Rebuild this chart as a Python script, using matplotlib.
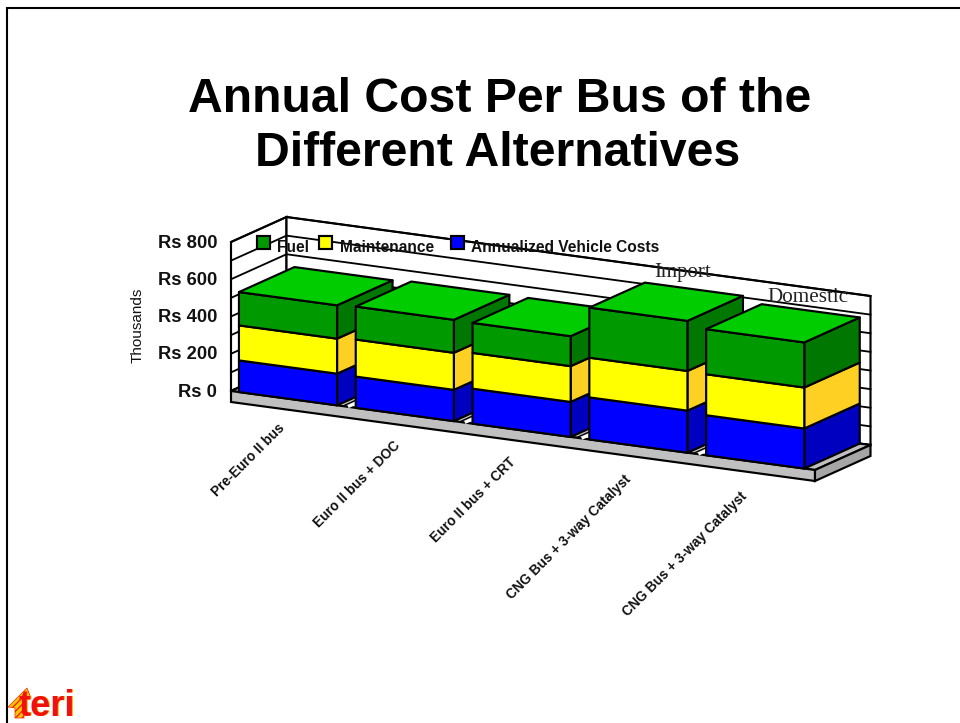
import matplotlib
matplotlib.use("Agg")
import matplotlib.pyplot as plt
from matplotlib.patches import Polygon, Rectangle

plt.rcParams['font.family'] = ['Liberation Sans', 'DejaVu Sans']

# donnees (Rs, en milliers)
categories = ["Pre-Euro II bus", "Euro II bus + DOC", "Euro II bus + CRT",
              "CNG Bus + 3-way Catalyst", "CNG Bus + 3-way Catalyst"]
vehicle = [170, 168, 188, 226, 215]
maintenance = [188, 199, 192, 213, 220]
fuel = [179, 177, 161, 269, 242]
grid_values = [0, 100, 200, 300, 400, 500, 600, 700, 800]
tick_values = [0, 200, 400, 600, 800]
legend_labels = ["Fuel", "Maintenance", "Annualized Vehicle Costs"]

# projection oblique (pixels de l'image)
X0, Y0 = 231, 391
CAT_DX, CAT_DY = 116.8, 15.8
DEPTH_DX, DEPTH_DY = 55.5, -25
VAL_PX = 149 / 800
SLAB = 11
BAR_START = 0.068
BAR_WIDTH = 0.84
LW = 1.55


def project(cat, val, depth=0.0):
    x = X0 + cat * CAT_DX + depth * DEPTH_DX
    y = Y0 + cat * CAT_DY + depth * DEPTH_DY - val * VAL_PX
    return (x, y)


fig = plt.figure(figsize=(9.6, 7.23), dpi=100)
ax = fig.add_axes([0, 0, 1, 1])
ax.set_xlim(0, 960)
ax.set_ylim(723, 0)
ax.axis('off')

# cadre de la diapo
ax.plot([7, 7, 960], [723, 8, 8], color='black', lw=1.5, solid_joinstyle='miter')

ax.text(499.5, 100, "Annual Cost Per Bus of the", ha='center', va='center',
        fontsize=34.7, fontweight='bold', color='black')
ax.text(498, 154, "Different Alternatives", ha='center', va='center',
        fontsize=34.7, fontweight='bold', color='black')

n = len(categories)
vmax = grid_values[-1]

# murs
ax.add_patch(Polygon([project(0, 0), project(0, vmax), project(0, vmax, 1), project(0, 0, 1)],
                     closed=True, fc='white', ec='black', lw=LW, zorder=1))
ax.add_patch(Polygon([project(0, 0, 1), project(0, vmax, 1), project(n, vmax, 1), project(n, 0, 1)],
                     closed=True, fc='white', ec='black', lw=LW, zorder=1))
for g in grid_values:
    pts = [project(0, g), project(0, g, 1), project(n, g, 1)]
    ax.plot([p[0] for p in pts], [p[1] for p in pts], color='black', lw=LW * 0.85, zorder=2)

# plancher
ax.add_patch(Polygon([project(0, 0), project(n, 0), project(n, 0, 1), project(0, 0, 1)],
                     closed=True, fc='#C0C0C0', ec='black', lw=LW, zorder=3))
x1, y1 = project(0, 0)
x2, y2 = project(n, 0)
x3, y3 = project(n, 0, 1)
ax.add_patch(Polygon([(x1, y1), (x2, y2), (x2, y2 + SLAB), (x1, y1 + SLAB)],
                     closed=True, fc='#C0C0C0', ec='black', lw=LW, zorder=3))
ax.add_patch(Polygon([(x2, y2), (x3, y3), (x3, y3 + SLAB), (x2, y2 + SLAB)],
                     closed=True, fc='#A6A6A6', ec='black', lw=LW, zorder=3))
# rayures du sol entre les barres
for i in range(1, n):
    a = project(i, 0, 0.03)
    b = project(i, 0, 0.5)
    ax.plot([a[0], b[0]], [a[1], b[1]], color='white', lw=2.2, zorder=3.1)
    ax.plot([a[0] - 5, b[0] - 5], [a[1] - 0.7, b[1] - 0.7], color='black', lw=1, zorder=3.1)

# barres empilees
stacks = [
    (vehicle, '#0000FF', '#0000C0', '#0000FF'),
    (maintenance, '#FFFF00', '#FFD024', '#FFFF00'),
    (fuel, '#009900', '#007700', '#00CC00'),
]
for i in range(n):
    c0 = i + BAR_START
    c1 = c0 + BAR_WIDTH
    bottom = 0
    z = 4 + i
    for values, front, side, top in stacks:
        v0, v1 = bottom, bottom + values[i]
        ax.add_patch(Polygon([project(c1, v0), project(c1, v1), project(c1, v1, 1), project(c1, v0, 1)],
                             closed=True, fc=side, ec='black', lw=LW, joinstyle='round', zorder=z))
        ax.add_patch(Polygon([project(c0, v0), project(c1, v0), project(c1, v1), project(c0, v1)],
                             closed=True, fc=front, ec='black', lw=LW, joinstyle='round', zorder=z))
        bottom = v1
    ax.add_patch(Polygon([project(c0, bottom), project(c1, bottom), project(c1, bottom, 1), project(c0, bottom, 1)],
                         closed=True, fc=stacks[-1][3], ec='black', lw=LW, joinstyle='round', zorder=z))

    # etiquette de categorie
    cx, cy = project(i + 0.5, 0)
    ax.text(cx - 7 - 1.2 * i, cy + 27 + 1.3 * i, categories[i], rotation=45, rotation_mode='anchor',
            ha='right', va='center', fontsize=9.8, fontweight='bold', color='#111111', zorder=20)

# axe des valeurs
for t in tick_values:
    x, y = project(0, t)
    ax.text(217, y + 1.2, f"Rs {t}", ha='right', va='center', fontsize=13.2,
            fontweight='bold', color='#111111', zorder=20)
ax.text(138, 325, "Thousands", rotation=90, ha='center', va='center', fontsize=11,
        color='#111111', zorder=20)

# legende
legend_swatch = [263, 325, 457]
legend_text = [277, 340, 471]
legend_colors = ['#009900', '#FFFF00', '#0000FF']
for lab, sx, tx, col in zip(legend_labels, legend_swatch, legend_text, legend_colors):
    ax.add_patch(Rectangle((sx - 6.5, 236), 13, 12.5, fc=col, ec='black', lw=LW, zorder=2.5))
    ax.text(tx, 247.5, lab, ha='left', va='center', fontsize=11.2, fontweight='bold',
            color='#111111', zorder=2.6)

# annotations
ax.text(683, 273, "Import", ha='center', va='center', fontsize=15,
        family='Liberation Serif', color='#222222', zorder=20)
ax.text(807.5, 297, "Domestic", ha='center', va='center', fontsize=15.2,
        family='Liberation Serif', color='#222222', zorder=20)

# logo teri
ax.add_patch(Polygon([(8, 707), (27, 688), (31, 698), (24, 700), (24, 718), (15, 718), (15, 708)],
                     closed=True, fc='#FFC800', ec='#FF2000', lw=0.5, hatch='/////', zorder=5))
ax.text(19.5, 716.5, "teri", ha='left', va='baseline', fontsize=26, fontweight='bold',
        color='#FFB000', zorder=6)
ax.text(18.5, 715.5, "teri", ha='left', va='baseline', fontsize=26, fontweight='bold',
        color='#F01010', zorder=7)

fig.savefig('out.png', dpi=100)
